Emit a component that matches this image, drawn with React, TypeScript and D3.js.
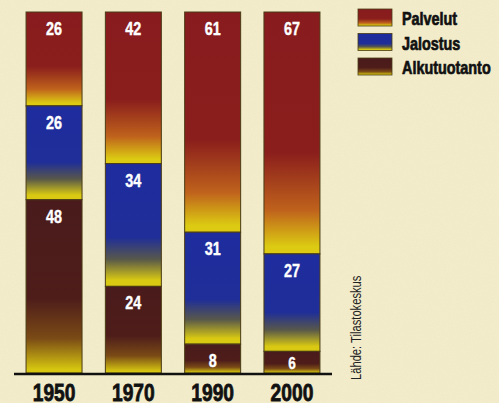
import React from "react";
import * as d3 from "d3";

const years = ["1950", "1970", "1990", "2000"];
const seriesNames = ["Palvelut", "Jalostus", "Alkutuotanto"];
const palvelut = [26, 42, 61, 67];
const jalostus = [26, 34, 31, 27];
const alkutuotanto = [48, 24, 8, 6];
const source = "Lähde: Tilastokeskus";

const W = 499;
const H = 403;
const BG = "#f3edcb";
const FONT = "'Liberation Sans', Arial, sans-serif";
const SX = 0.8;

const gradStops: Record<string, [number, string][]> = {
  Palvelut: [
    [0, "#881b1e"],
    [0.58, "#8a1e1c"],
    [0.82, "#bf621c"],
    [0.97, "#dccb12"],
    [1, "#dccb12"],
  ],
  Jalostus: [
    [0, "#1e2c9e"],
    [0.6, "#1f2e98"],
    [0.78, "#58584a"],
    [0.95, "#d9c912"],
    [1, "#d9c912"],
  ],
  Alkutuotanto: [
    [0, "#4a1b1c"],
    [0.57, "#4e1d1a"],
    [0.8, "#7a4a16"],
    [0.98, "#d6c610"],
    [1, "#d6c610"],
  ],
};

function NText(props: {
  x: number;
  y: number;
  rotate?: number;
  anchor?: string;
  size: number;
  bold?: boolean;
  fill: string;
  stroke?: number;
  children: React.ReactNode;
}) {
  const { x, y, rotate = 0, anchor = "start", size, bold, fill, stroke = 0, children } = props;
  return (
    <text
      transform={`translate(${x},${y}) rotate(${rotate}) scale(${SX},1)`}
      textAnchor={anchor}
      fill={fill}
      fontFamily={FONT}
      fontWeight={bold ? "bold" : "normal"}
      fontSize={size}
      stroke={stroke ? fill : "none"}
      strokeWidth={stroke}
    >
      {children}
    </text>
  );
}

export default function App() {
  const x = d3
    .scaleBand<string>()
    .domain(years)
    .range([14, 332])
    .paddingInner(0.294)
    .paddingOuter(0.152);
  const y = d3.scaleLinear().domain([0, 100]).range([373, 12]);

  const table = years.map((yr, i) => ({
    year: yr,
    Palvelut: palvelut[i],
    Jalostus: jalostus[i],
    Alkutuotanto: alkutuotanto[i],
  }));
  const stack = d3.stack<any>().keys(seriesNames).order(d3.stackOrderReverse);
  const stacked = stack(table);

  const ids: Record<string, string> = {
    Palvelut: "g-pal",
    Jalostus: "g-jal",
    Alkutuotanto: "g-alk",
  };

  return (
    <div style={{ position: "fixed", left: 0, top: 0 }}>
      <svg width={W} height={H} style={{ display: "block" }}>
        <defs>
          {seriesNames.map((s) => (
            <linearGradient key={s} id={ids[s]} x1="0" y1="0" x2="0" y2="1">
              {gradStops[s].map(([o, c], k) => (
                <stop key={k} offset={o} stopColor={c} />
              ))}
            </linearGradient>
          ))}
          <filter id="paper" x="0" y="0" width="100%" height="100%">
            <feTurbulence type="fractalNoise" baseFrequency="0.9" numOctaves="2" seed="3" result="n" />
            <feColorMatrix
              in="n"
              type="matrix"
              values="0 0 0 0 0.6  0 0 0 0 0.55  0 0 0 0 0.4  0 0 0 0.3 -0.05"
            />
          </filter>
        </defs>
        <rect x={0} y={0} width={W} height={H} fill={BG} />
        <rect x={0} y={0} width={W} height={H} filter="url(#paper)" opacity={0.4} />

        {stacked.map((layer) => (
          <g key={layer.key}>
            {layer.map((d, i) => {
              const top = y(d[1]);
              const bot = y(d[0]);
              const v = d[1] - d[0];
              const cx = (x(years[i]) as number) + x.bandwidth() / 2;
              const base = Math.min(top + 23, bot - 4);
              return (
                <g key={i}>
                  <rect
                    x={x(years[i])}
                    y={top}
                    width={x.bandwidth()}
                    height={bot - top}
                    fill={`url(#${ids[layer.key]})`}
                    stroke="#4a3c14"
                    strokeWidth={1}
                  />
                  <NText x={cx} y={base} anchor="middle" fill="#ffffff" bold size={v < 7 ? 17 : 18} stroke={0.4}>
                    {v}
                  </NText>
                </g>
              );
            })}
          </g>
        ))}

        <line x1={14} x2={332} y1={374} y2={374} stroke="#111" strokeWidth={2.5} />

        {years.map((yr) => (
          <NText
            key={yr}
            x={(x(yr) as number) + x.bandwidth() / 2}
            y={401}
            anchor="middle"
            fill="#111"
            bold
            size={24}
            stroke={0.8}
          >
            {yr}
          </NText>
        ))}

        {seriesNames.map((s, i) => (
          <g key={s} transform={`translate(358, ${9 + i * 24.5})`}>
            <rect width={34} height={17} fill={`url(#${ids[s]})`} stroke="#4a3c14" strokeWidth={0.8} />
            <NText x={44} y={16} fill="#111" bold size={18} stroke={0.7}>
              {s}
            </NText>
          </g>
        ))}

        <NText x={361} y={380} rotate={-90} fill="#222" size={14}>
          {source}
        </NText>
      </svg>
    </div>
  );
}
